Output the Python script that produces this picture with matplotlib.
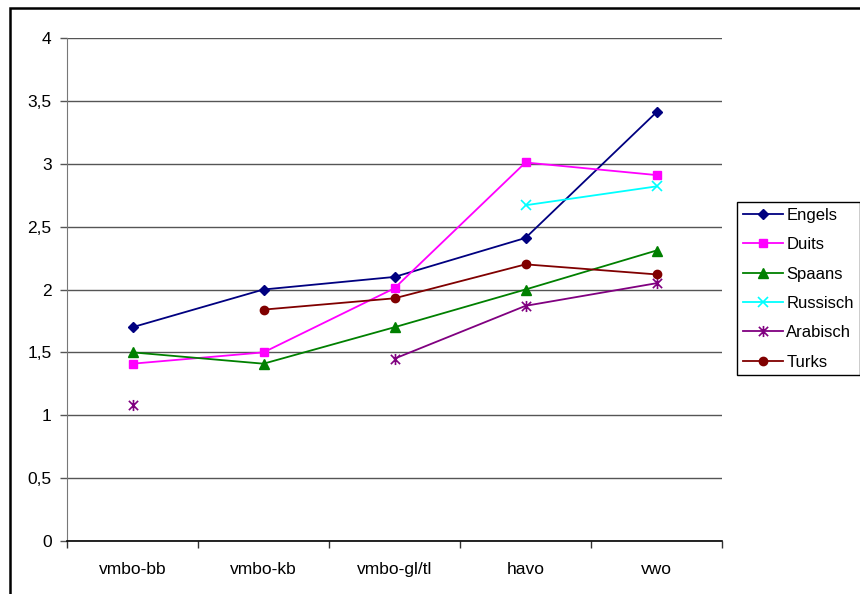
import numpy as np
import matplotlib
matplotlib.use('Agg')
import matplotlib.pyplot as plt
from matplotlib.path import Path
from matplotlib.patches import Rectangle
from matplotlib.ticker import FuncFormatter, FixedLocator

plt.rcParams['font.family'] = ['Liberation Sans', 'DejaVu Sans']

LEVELS = ['vmbo-bb', 'vmbo-kb', 'vmbo-gl/tl', 'havo', 'vwo']

nan = np.nan
ENGELS = [1.70, 2.00, 2.10, 2.41, 3.41]
DUITS = [1.41, 1.50, 2.01, 3.01, 2.91]
SPAANS = [1.50, 1.41, 1.70, 2.00, 2.31]
RUSSISCH = [nan, nan, nan, 2.67, 2.82]
ARABISCH = [1.08, nan, 1.45, 1.87, 2.05]
TURKS = [nan, 1.84, 1.93, 2.20, 2.12]

# Excel-style star: an x with a vertical bar through it
STAR = Path(
    [(-1, -1), (1, 1), (-1, 1), (1, -1), (0, -1.2), (0, 1.2)],
    [Path.MOVETO, Path.LINETO, Path.MOVETO, Path.LINETO, Path.MOVETO, Path.LINETO],
)

SERIES = [
    ('Engels', ENGELS, '#000080', dict(marker='D', ms=5.5)),
    ('Duits', DUITS, '#FF00FF', dict(marker='s', ms=6)),
    ('Spaans', SPAANS, '#008000', dict(marker='^', ms=7)),
    ('Russisch', RUSSISCH, '#00FFFF', dict(marker='x', ms=7, mew=1.2)),
    ('Arabisch', ARABISCH, '#800080', dict(marker=STAR, ms=8, mew=1.2, mfc='none')),
    ('Turks', TURKS, '#800000', dict(marker='o', ms=6)),
]

FS = 12.5

fig = plt.figure(figsize=(8.6, 5.94), dpi=100)
ax = fig.add_axes([67 / 860, 53 / 594, 655 / 860, 503 / 594])

x = np.arange(len(LEVELS))
for name, vals, colour, mk in SERIES:
    ax.plot(x, vals, color=colour, lw=1.3, label=name, **mk)

ax.set_xlim(-0.5, len(LEVELS) - 0.5)
ax.set_ylim(0, 4)
ax.yaxis.set_major_locator(FixedLocator(np.arange(0, 4.01, 0.5)))
ax.yaxis.set_major_formatter(FuncFormatter(lambda v, p: ('%g' % v).replace('.', ',')))
ax.grid(axis='y', color='#555555', lw=1)
ax.set_axisbelow(True)

# category labels in the middle, tick marks on the boundaries
ax.set_xticks(x)
ax.set_xticklabels(LEVELS, fontsize=FS)
ax.tick_params(axis='x', which='major', length=0, pad=15)
ax.set_xticks(np.arange(-0.5, len(LEVELS), 1), minor=True)
ax.tick_params(axis='x', which='minor', length=5, width=1, color='#333333', direction='out')
ax.tick_params(axis='y', length=5, width=1, color='#555555', labelsize=FS, pad=6)

for s in ['top', 'right']:
    ax.spines[s].set_visible(False)
ax.spines['left'].set_color('#777777')
ax.spines['bottom'].set_color('black')
ax.spines['bottom'].set_linewidth(1.2)

fig.legend(loc='upper left', bbox_to_anchor=(737 / 860, 1 - 202 / 594),
           fontsize=12, frameon=True, fancybox=False, edgecolor='black',
           framealpha=1, borderaxespad=0, handlelength=2.4, handletextpad=0.2,
           labelspacing=0.86, borderpad=0.35)

# outer chart frame
fig.patches.append(Rectangle((10 / 860, -0.1), 1.2, 1.1 - 8 / 594,
                             transform=fig.transFigure, fill=False,
                             edgecolor='black', lw=1.8, zorder=0))

fig.savefig('out.png', dpi=100)
